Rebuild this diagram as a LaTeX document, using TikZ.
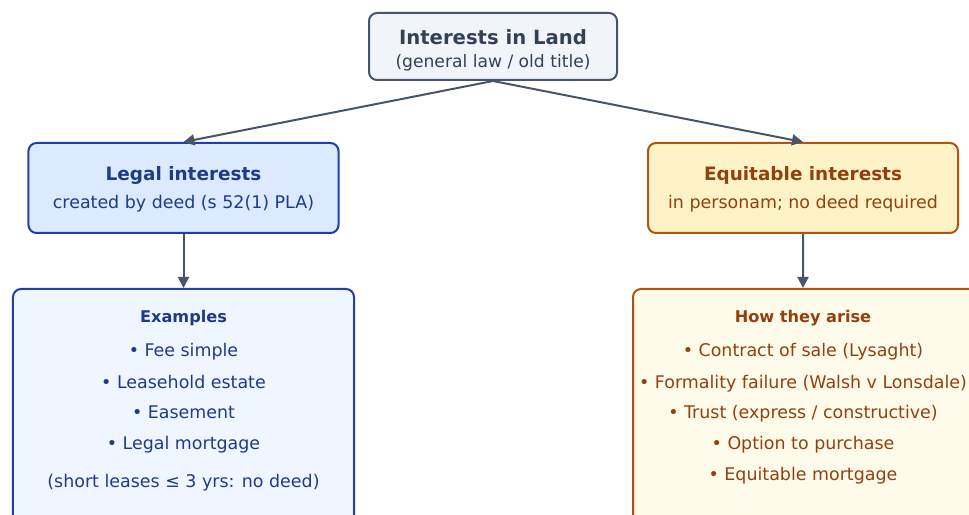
\documentclass[tikz,border=0pt]{standalone}
\usepackage{fontspec}
\setmainfont{DejaVu Sans}
\usetikzlibrary{arrows.meta}
\definecolor{slateline}{HTML}{475569}
\definecolor{slatefill}{HTML}{F1F5F9}
\definecolor{slatetext}{HTML}{334155}
\definecolor{blueline}{HTML}{1E40AF}
\definecolor{bluefill}{HTML}{DBEAFE}
\definecolor{bluepale}{HTML}{EFF6FF}
\definecolor{bluetext}{HTML}{1E3A8A}
\definecolor{amberline}{HTML}{B45309}
\definecolor{amberfill}{HTML}{FEF3C7}
\definecolor{amberpale}{HTML}{FFFBEB}
\definecolor{ambertext}{HTML}{92400E}
\tikzset{
  card/.style={draw, line width=2bp, rounded corners=8bp, inner sep=0pt},
  txt/.style={anchor=base, inner sep=0pt},
  big/.style={txt, font=\fontsize{19.7}{24}\selectfont\bfseries},
  mid/.style={txt, font=\fontsize{18.5}{22}\selectfont\bfseries},
  head/.style={txt, font=\fontsize{16.2}{20}\selectfont\bfseries},
  body/.style={txt, font=\fontsize{17.5}{21}\selectfont},
  sub/.style={txt, font=\fontsize{17.2}{21}\selectfont},
  link/.style={draw=slateline, line width=2bp, -{Triangle[length=11bp,width=11bp]}}
}
\begin{document}
\begin{tikzpicture}[x=1bp,y=-1bp]
\useasboundingbox (0,0) rectangle (969,515);
\begin{scope}
\clip (0,0) rectangle (969,515);
% boxes
\node[card, draw=slateline, fill=slatefill, minimum width=248bp, minimum height=67bp] (root) at (493,46.5) {};
\node[card, draw=blueline, fill=bluefill, minimum width=310bp, minimum height=90bp] (legal) at (183.5,188) {};
\node[card, draw=amberline, fill=amberfill, minimum width=310bp, minimum height=90bp] (equit) at (803,188) {};
\node[card, draw=blueline, fill=bluepale, minimum width=341bp, minimum height=260bp] (ex) at (183.5,419) {};
\node[card, draw=amberline, fill=amberpale, minimum width=360bp, minimum height=260bp] (arise) at (813,419) {};
\end{scope}
% connectors
\draw[link] (root.south) -- (legal.north);
\draw[link] (root.south) -- (equit.north);
\draw[link] (legal.south) -- (ex.north);
\draw[link] (equit.south) -- ([xshift=-10bp]arise.north);
% root texts
\node[big, text=slatetext] (t1) at (493,45) {Interests in Land};
\node[sub, text=slatetext] (t2) at (493,68) {(general law / old title)};
% legal texts
\node[mid, text=bluetext] (t3) at (183.5,181) {Legal interests};
\node[body, text=bluetext] (t4) at (183.5,209) {created by deed (s 52(1) PLA)};
% equitable texts
\node[mid, text=ambertext] (t5) at (803,181) {Equitable interests};
\node[body, text=ambertext] (t6) at (803,209) {in personam; no deed required};
% examples
\node[head, text=bluetext] (e0) at (183.5,323) {Examples};
\node[body, text=bluetext] (e1) at (183.5,357) {• Fee simple};
\node[body, text=bluetext] (e2) at (183.5,388) {• Leasehold estate};
\node[body, text=bluetext] (e3) at (183.5,418) {• Easement};
\node[body, text=bluetext] (e4) at (183.5,449) {• Legal mortgage};
\node[body, text=bluetext] (e5) at (183.5,487) {(short leases ≤ 3 yrs: no deed)};
% how they arise
\node[head, text=ambertext] (a0) at (803,323) {How they arise};
\node[body, text=ambertext] (a1) at (803,357) {• Contract of sale (Lysaght)};
\node[body, text=ambertext] (a2) at (803,388) {• Formality failure (Walsh v Lonsdale)};
\node[body, text=ambertext] (a3) at (803,418) {• Trust (express / constructive)};
\node[body, text=ambertext] (a4) at (803,449) {• Option to purchase};
\node[body, text=ambertext] (a5) at (803,480) {• Equitable mortgage};
\end{tikzpicture}
\end{document}
